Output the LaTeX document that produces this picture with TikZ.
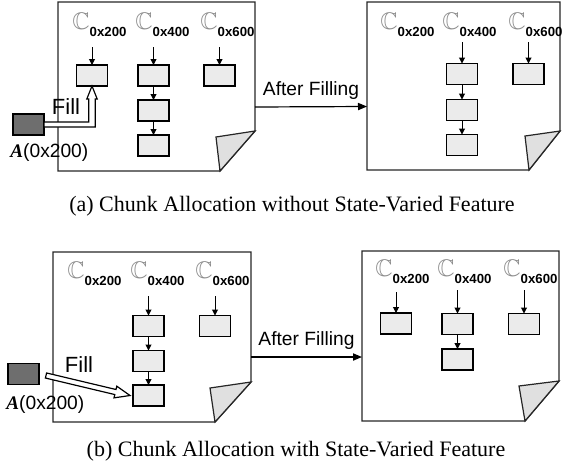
\documentclass[tikz,border=0pt]{standalone}
\usepackage{amssymb}
\usepackage{fontspec}
\setmainfont{Liberation Sans}
\newfontfamily\capfont{Liberation Serif}
\usetikzlibrary{arrows.meta,calc}
\definecolor{boxfill}{HTML}{EBEBEB}
\definecolor{afill}{HTML}{6E6E6E}
\definecolor{flapfill}{HTML}{E0E0E0}
\definecolor{cgray}{HTML}{8C8C8C}
\newcommand\clab[1]{{\fontsize{12}{12}\selectfont\color{cgray}$\mathbb{C}$}\raisebox{-3.5pt}{\fontsize{6.6}{6.6}\selectfont\bfseries #1}}
\begin{document}
\begin{tikzpicture}[x=0.5pt,y=-0.5pt,
  chunk/.style={draw=black, line width=0.7pt, fill=boxfill, minimum width=15.5pt, minimum height=10.5pt, inner sep=0pt, outer sep=0pt},
  abox/.style={draw=black, line width=0.7pt, fill=afill, minimum width=15.5pt, minimum height=10.5pt, inner sep=0pt, outer sep=0pt},
  lbl/.style={anchor=north west, inner sep=0pt},
  pagebox/.style={draw=none, inner sep=0pt, outer sep=0pt},
  pageline/.style={draw=black!85, line width=0.7pt},
  flap/.style={draw=black!85, line width=0.6pt, fill=flapfill},
  carr/.style={-{Triangle[length=3pt,width=3pt]}, line width=0.5pt},
  farr/.style={-{Triangle[length=4.5pt,width=3.6pt]}, line width=0.6pt},
  hollow/.style={draw=black, line width=0.6pt, fill=white, line join=miter},
  ftxt/.style={inner sep=0pt, font=\fontsize{11}{11}\selectfont},
  atxt/.style={inner sep=0pt, font=\fontsize{9.6}{10}\selectfont},
  captxt/.style={inner sep=0pt, font=\capfont\fontsize{11}{13}\selectfont}
]
\useasboundingbox (0,0) rectangle (563,472);

% ================= panel (a) =================
\node[pagebox, minimum width=98.5pt, minimum height=84.5pt] (PA) at (156.5,86.5) {};
\draw[pageline] (PA.north west) -- (PA.north east) -- ($(PA.south east)+(0,-40)$) -- ($(PA.south east)+(-35,0)$) -- (PA.south west) -- cycle;
\draw[flap] ($(PA.south east)+(-39,-34)$) -- ($(PA.south east)+(0,-40)$) -- ($(PA.south east)+(-35,0)$) -- cycle;

\node[pagebox, minimum width=96.5pt, minimum height=84pt] (PB) at (463.5,86) {};
\draw[pageline] (PB.north west) -- (PB.north east) -- ($(PB.south east)+(0,-39)$) -- ($(PB.south east)+(-31,0)$) -- (PB.south west) -- cycle;
\draw[flap] ($(PB.south east)+(-35,-34)$) -- ($(PB.south east)+(0,-39)$) -- ($(PB.south east)+(-31,0)$) -- cycle;

% labels
\node[lbl] (ca1) at (72,13) {\clab{0x200}};
\node[lbl] (ca2) at (135,13) {\clab{0x400}};
\node[lbl] (ca3) at (200,13) {\clab{0x600}};
\node[lbl] (cb1) at (380,13) {\clab{0x200}};
\node[lbl] (cb2) at (442,13) {\clab{0x400}};
\node[lbl] (cb3) at (508,13) {\clab{0x600}};

% chunks left
\node[chunk] (a11) at (92,75.5) {};
\node[chunk] (a21) at (153.5,75.5) {};
\node[chunk] (a22) at (153.5,110.5) {};
\node[chunk] (a23) at (153.5,145.5) {};
\node[chunk] (a31) at (219.5,75.5) {};
% chunks right
\node[chunk] (r21) at (462,74) {};
\node[chunk] (r22) at (462,110) {};
\node[chunk] (r23) at (462,145) {};
\node[chunk] (r31) at (528.5,74) {};

\draw[carr, shorten <=5pt] (a11.north |- ca1.south) -- (a11.north);
\draw[carr, shorten <=5pt] (a21.north |- ca2.south) -- (a21.north);
\draw[carr, shorten <=5pt] (a31.north |- ca3.south) -- (a31.north);
\draw[carr] (a21.south) -- (a22.north);
\draw[carr] (a22.south) -- (a23.north);

\draw[carr, shorten <=2.5pt] (r21.north |- cb2.south) -- (r21.north);
\draw[carr, shorten <=2.5pt] (r31.north |- cb3.south) -- (r31.north);
\draw[carr] (r21.south) -- (r22.north);
\draw[carr] (r22.south) -- (r23.north);

% A and fill
\node[abox] (A1) at (28.5,124.5) {};
\node[atxt, anchor=west] (A1t) at (10,153) {{\capfont\bfseries\itshape A}(0x200)};
\node[ftxt] (F1) at (66,107) {Fill};
\draw[hollow] let \p1=(A1.east), \p2=(a11.south) in
  (\x1,\y1+1.25pt) -- (\x2-1.6pt,\y1+1.25pt) -- (\x2-1.6pt,\y2-6.5pt) -- (\x2-2.6pt,\y2-6.5pt)
  -- (\x2,\y2) -- (\x2+2.6pt,\y2-6.5pt) -- (\x2+1.6pt,\y2-6.5pt) -- (\x2+1.6pt,\y1-1.25pt)
  -- (\x1,\y1-1.25pt) -- cycle;

% After filling
\draw[farr] ([yshift=-10.25pt]PA.east) -- node[atxt, above=3.5pt] (AF1) {After Filling} ([yshift=-10.25pt]PB.west);

\node[captxt] (capa) at (292,206) {(a) Chunk Allocation without State-Varied Feature};

% ================= panel (b) =================
\node[pagebox, minimum width=99pt, minimum height=85pt] (PC) at (152,337) {};
\draw[pageline] (PC.north west) -- (PC.north east) -- ($(PC.south east)+(0,-40)$) -- ($(PC.south east)+(-36,0)$) -- (PC.south west) -- cycle;
\draw[flap] ($(PC.south east)+(-41,-34)$) -- ($(PC.south east)+(0,-40)$) -- ($(PC.south east)+(-36,0)$) -- cycle;

\node[pagebox, minimum width=98.5pt, minimum height=85pt] (PD) at (460.5,336) {};
\draw[pageline] (PD.north west) -- (PD.north east) -- ($(PD.south east)+(0,-40)$) -- ($(PD.south east)+(-34,0)$) -- (PD.south west) -- cycle;
\draw[flap] ($(PD.south east)+(-40,-35)$) -- ($(PD.south east)+(0,-40)$) -- ($(PD.south east)+(-34,0)$) -- cycle;

\node[lbl] (cc1) at (67,262) {\clab{0x200}};
\node[lbl] (cc2) at (130,262) {\clab{0x400}};
\node[lbl] (cc3) at (195,262) {\clab{0x600}};
\node[lbl] (cd1) at (375,260) {\clab{0x200}};
\node[lbl] (cd2) at (437,260) {\clab{0x400}};
\node[lbl] (cd3) at (503,260) {\clab{0x600}};

\node[chunk] (l21) at (148.5,326) {};
\node[chunk] (l22) at (148.5,361) {};
\node[chunk] (l23) at (148.5,395.5) {};
\node[chunk] (l31) at (215,326) {};

\node[chunk] (q11) at (396,323.5) {};
\node[chunk] (q21) at (457.5,324) {};
\node[chunk] (q22) at (457.5,359.5) {};
\node[chunk] (q31) at (524,324) {};

\draw[carr, shorten <=5pt] (l21.north |- cc2.south) -- (l21.north);
\draw[carr, shorten <=5pt] (l31.north |- cc3.south) -- (l31.north);
\draw[carr] (l21.south) -- (l22.north);
\draw[carr] (l22.south) -- (l23.north);

\draw[carr, shorten <=4pt] (q11.north |- cd1.south) -- (q11.north);
\draw[carr, shorten <=3pt] (q21.north |- cd2.south) -- (q21.north);
\draw[carr, shorten <=3pt] (q31.north |- cd3.south) -- (q31.north);
\draw[carr] (q21.south) -- (q22.north);

\node[abox] (A2) at (23.5,374) {};
\node[atxt, anchor=west] (A2t) at (6,405) {{\capfont\bfseries\itshape A}(0x200)};
\node[ftxt] (F2) at (79,365) {Fill};
\coordinate (s2) at ($(A2.east)+(7,1.5)$);
\coordinate (t2) at ($(l23.west)+(-3,0)$);
\coordinate (h2) at ($(t2)!7.5pt!(s2)$);
\draw[hollow] ($(s2)!1.3pt!90:(t2)$) -- ($(h2)!1.3pt!-90:(s2)$) -- ($(h2)!3pt!-90:(s2)$) -- (t2)
  -- ($(h2)!3pt!90:(s2)$) -- ($(h2)!1.3pt!90:(s2)$) -- ($(s2)!1.3pt!-90:(t2)$) -- cycle;

\draw[farr] ([yshift=-10pt]PC.east) -- node[atxt, above=3.5pt] (AF2) {After Filling} ([yshift=-10.5pt]PD.west);

\node[captxt] (capb) at (296,451) {(b) Chunk Allocation with State-Varied Feature};
\end{tikzpicture}
\end{document}
